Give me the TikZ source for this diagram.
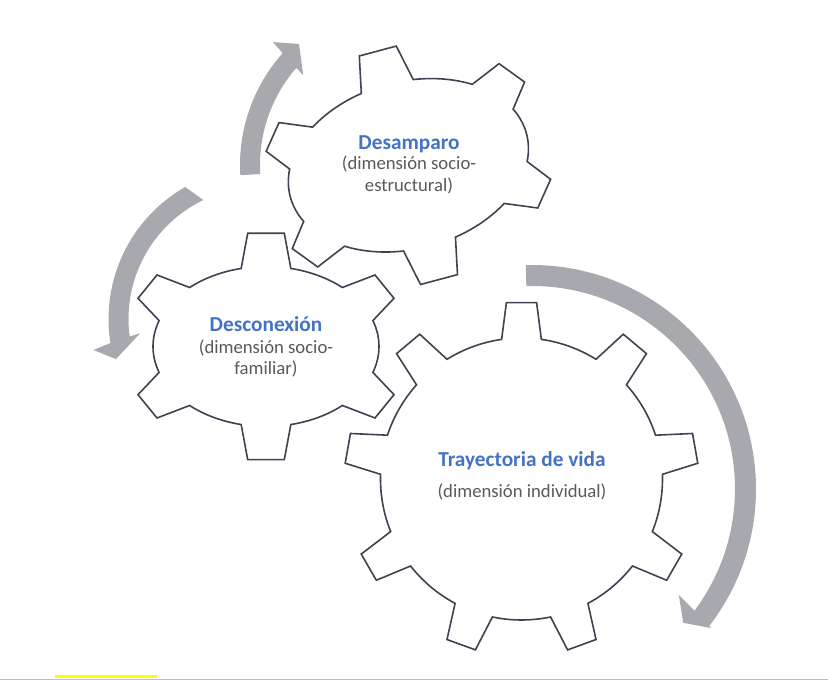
\documentclass[tikz,border=0pt]{standalone}
\usepackage{fontspec}
\setmainfont{Carlito}
\usepackage{xcolor}
\usepackage{tikz}

\definecolor{gearline}{HTML}{3D4350}
\definecolor{bandgray}{HTML}{A7A9AE}
\definecolor{titleblue}{HTML}{4472C4}
\definecolor{subgray}{HTML}{595959}
\definecolor{rulegray}{HTML}{BFBFBF}
\definecolor{markyellow}{HTML}{FFFF00}

% six-tooth gear outline, body ellipse #1 x 80, centred on the origin
\newcommand{\sixgear}[1]{%
  (77.3:#1 and 80) arc[start angle=77.3, end angle=47.5, x radius=#1, y radius=80]
  -- (109,71.5) -- (128,48.2) -- (18.9:#1 and 80)
  arc[start angle=18.9, end angle=-18.9, x radius=#1, y radius=80]
  -- (128,-48.2) -- (109,-71.5) -- (-47.5:#1 and 80)
  arc[start angle=-47.5, end angle=-77.3, x radius=#1, y radius=80]
  -- (18.3,-113.2) -- (-18.3,-113.2) -- (-102.7:#1 and 80)
  arc[start angle=-102.7, end angle=-132.5, x radius=#1, y radius=80]
  -- (-109,-71.5) -- (-128,-48.2) -- (-161.1:#1 and 80)
  arc[start angle=-161.1, end angle=-198.9, x radius=#1, y radius=80]
  -- (-128,48.2) -- (-109,71.5) -- (132.5:#1 and 80)
  arc[start angle=132.5, end angle=102.7, x radius=#1, y radius=80]
  -- (-18.3,113.2) -- (18.3,113.2) -- cycle}

\begin{document}
\begin{tikzpicture}[
    x=1pt, y=1pt,
    gear/.style={draw=gearline, line width=1.6pt, line join=miter},
    band/.style={fill=bandgray},
    title/.style={font=\fontsize{21.3}{25}\selectfont\bfseries, text=titleblue, inner sep=0pt, anchor=base},
    sub/.style={font=\fontsize{18.7}{21.6}\selectfont, text=subgray, align=center, inner sep=0pt, anchor=base},
]
\useasboundingbox (0,0) rectangle (828,680);

% centres
\coordinate (g_des) at (408.4,514.7);
\coordinate (g_dcx) at (266,333.5);
\coordinate (g_tra) at (521.5,201);

% Desamparo gear
\begin{scope}[shift={(g_des)}, rotate=15, scale=1.045]
  \draw[gear] \sixgear{117};
\end{scope}

% Desconexion gear
\begin{scope}[shift={(g_dcx)}]
  \draw[gear] \sixgear{113};
\end{scope}

% Trayectoria gear (nine teeth)
\begin{scope}[shift={(g_tra)}]
  \draw[gear] (81.9:141)
    \foreach \a in {90,130,...,410} {
      -- ({\a-4.9}:177) -- ({\a+4.9}:177) -- ({\a+8.1}:141)
      arc[start angle={\a+8.1}, end angle={\a+31.9}, radius=141]
    } -- cycle;
\end{scope}

% Arrows
\begin{scope}[shift={(408,515)}]
  \fill[band] (183.5:148) arc[start angle=183.5, end angle=139, radius=148]
    -- (139.4:138) -- (132:162.9) -- (137.7:182.6) -- (138.25:168)
    arc[start angle=138.25, end angle=183.5, radius=168] -- cycle;
\end{scope}
\begin{scope}[shift={(260.5,361)}]
  \fill[band] (115.7:132) arc[start angle=115.7, end angle=187.6, radius=132]
    -- (186.8:121.3) -- (195.5:150) -- (190.5:170) -- (189.1:152)
    arc[start angle=189.1, end angle=119.7, radius=152] -- cycle;
\end{scope}
\begin{scope}[shift={(532,191)}]
  \fill[band] (91.6:203) arc[start angle=91.6, end angle=-36.8, radius=203]
    -- (-35.8:181) -- (-41.5:202) -- (-37.8:227) -- (-37.75:224)
    arc[start angle=-37.75, end angle=91.6, radius=224] -- cycle;
\end{scope}

% Labels (base of a two-line node is its last line)
\node[title] (desamparo) at (409,530.7) {Desamparo};
\node[sub] (desamparo_sub) at ([yshift=-42.3pt]desamparo.base) {(dimensión socio-\\estructural)};

\node[title] (desconexion) at (266,348.3) {Desconexión};
\node[sub] (desconexion_sub) at ([yshift=-43.2pt]desconexion.base) {(dimensión socio-\\familiar)};

\node[title] (trayectoria) at (522,213.3) {Trayectoria de vida};
\node[sub] (trayectoria_sub) at ([yshift=-31.3pt]trayectoria.base) {(dimensión individual)};

% bottom edge
\fill[markyellow] (55,1.5) rectangle (157,4.5);
\draw[rulegray, line width=1.2pt] (0,0.8) -- (828,0.8);

\end{tikzpicture}
\end{document}
